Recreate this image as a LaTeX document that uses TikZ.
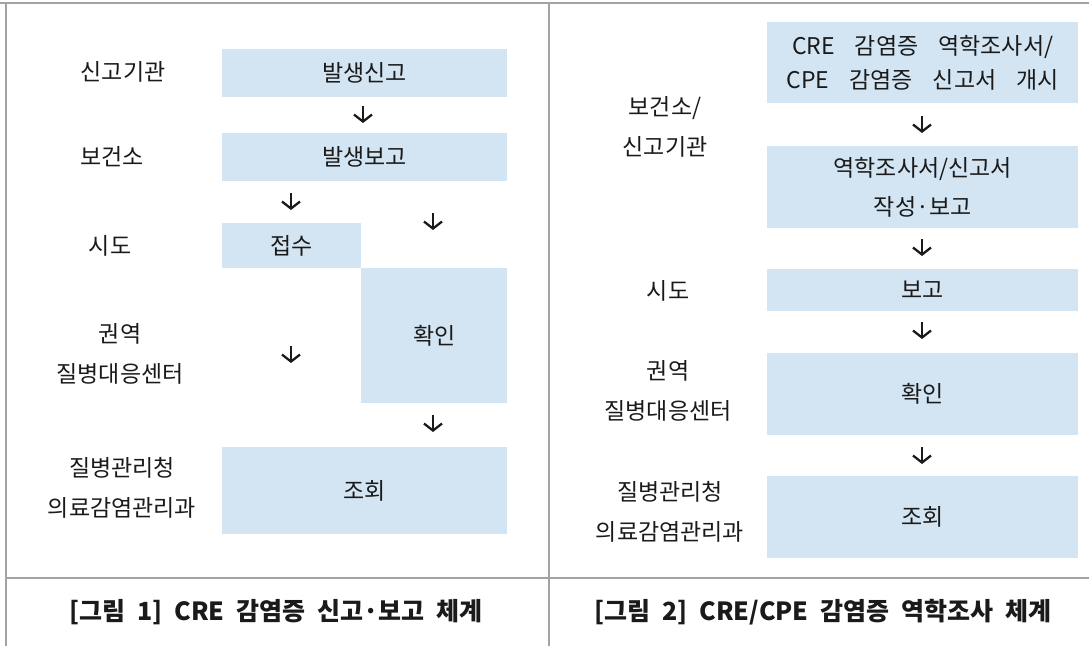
\documentclass[tikz,border=0pt]{standalone}
\usepackage{fontspec}
\setmainfont{Noto Sans CJK KR}
\usetikzlibrary{arrows.meta}
\definecolor{boxblue}{HTML}{D3E5F3}
\definecolor{framegray}{HTML}{A3A3A3}
\definecolor{ink}{HTML}{1A1A1A}
\newcommand{\widefont}{\fontsize{23}{34}\selectfont\spaceskip 20pt\relax}
\newcommand{\capfont}{\fontsize{25}{28}\selectfont\bfseries\spaceskip 12pt\relax}
\tikzset{
  box/.style={fill=boxblue, draw=none, anchor=north west, inner sep=0pt, align=center, text=ink,
    font=\fontsize{23}{39}\selectfont},
  widebox/.style={box, font=\widefont},
  lbl/.style={align=center, text=ink, inner sep=0pt, font=\fontsize{23}{40}\selectfont},
  captext/.style={text=ink, inner sep=0pt, font=\capfont},
  arr/.style={-{Straight Barb[length=7pt,width=18pt,line width=2.3pt]}, line width=2.3pt, ink},
  rule/.style={draw=framegray, line width=1.5pt}
}
\newcommand{\dnarrow}[3]{%
  \coordinate (#1s) at (#2,#3-9);
  \coordinate (#1e) at (#2,#3+8);
  \draw[arr] (#1s) -- (#1e);}
\begin{document}
\begin{tikzpicture}[x=1pt,y=-1pt]
\useasboundingbox (0,0) rectangle (1089,646);
% frame
\coordinate (tl) at (0,3); \coordinate (tr) at (1089,3);
\coordinate (lt) at (6,3); \coordinate (lb) at (6,646);
\coordinate (mt) at (549,3); \coordinate (mb) at (549,646);
\coordinate (cl) at (6,578); \coordinate (cr) at (1089,578);
\draw[rule] (tl) -- (tr);
\draw[rule] (lt) -- (lb);
\draw[rule] (mt) -- (mb);
\draw[rule] (cl) -- (cr);

% ---------- left panel ----------
\node[box, minimum width=285pt, minimum height=48pt] (b1) at (222,49) {발생신고};
\node[box, minimum width=285pt, minimum height=48pt] (b2) at (222,133) {발생보고};
\node[box, minimum width=139pt, minimum height=45pt] (b3) at (222,223) {접수};
\node[box, minimum width=146pt, minimum height=135pt] (b4) at (361,268) {확인};
\node[box, minimum width=285pt, minimum height=87pt] (b5) at (222,447) {조회};

\node[lbl] (l1) at (123,72) {신고기관};
\node[lbl] (l2) at (112,157) {보건소};
\node[lbl] (l3) at (110,246) {시도};
\node[lbl] (l4) at (120,354) {권역\\질병대응센터};
\node[lbl] (l5) at (122,488) {질병관리청\\의료감염관리과};

\dnarrow{a1}{363}{115}
\dnarrow{a2}{291}{202}
\dnarrow{a3}{433}{222}
\dnarrow{a4}{291}{355}
\dnarrow{a5}{433}{424}

\node[captext] (c1) at (276,612) {{[}그림 1{]} CRE 감염증 신고·보고 체계};

% ---------- right panel ----------
\node[widebox, minimum width=311pt, minimum height=81pt] (r1) at (767,22) {CRE 감염증 역학조사서/\\CPE 감염증 신고서 개시};
\node[box, minimum width=311pt, minimum height=82pt] (r2) at (767,146) {역학조사서/신고서\\작성·보고};
\node[box, minimum width=311pt, minimum height=42pt] (r3) at (767,269) {보고};
\node[box, minimum width=311pt, minimum height=82pt] (r4) at (767,353) {확인};
\node[box, minimum width=311pt, minimum height=82pt] (r5) at (767,476) {조회};

\node[lbl] (m1) at (665,127) {보건소/\\신고기관};
\node[lbl] (m2) at (668,291) {시도};
\node[lbl] (m3) at (668,391) {권역\\질병대응센터};
\node[lbl] (m4) at (670,512) {질병관리청\\의료감염관리과};

\dnarrow{d1}{922}{125}
\dnarrow{d2}{922}{248}
\dnarrow{d3}{922}{331}
\dnarrow{d4}{922}{456}

\node[captext] (c2) at (823,612) {{[}그림 2{]} CRE/CPE 감염증 역학조사 체계};
\end{tikzpicture}
\end{document}
